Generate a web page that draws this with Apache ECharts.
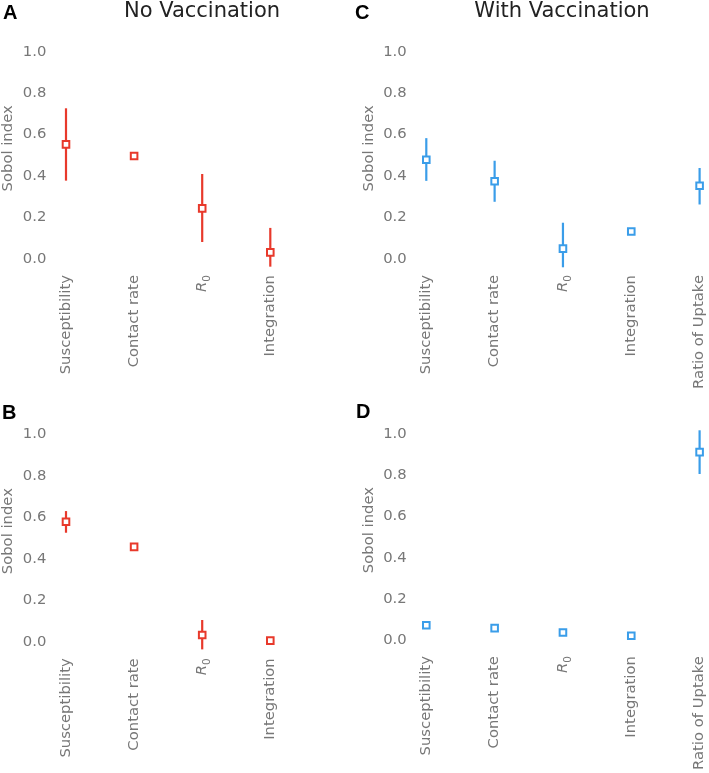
<!DOCTYPE html>
<html><head><meta charset="utf-8">
<script src="https://cdn.jsdelivr.net/npm/echarts@6/dist/echarts.min.js"></script>
<style>html,body{margin:0;padding:0;background:#fff}#c{width:709px;height:773px}</style>
</head><body><div id="c"></div>
<script>
// Categories
const catsNoVac = ['Susceptibility', 'Contact rate', 'R0', 'Integration'];
const catsVac = ['Susceptibility', 'Contact rate', 'R0', 'Integration', 'Ratio of Uptake'];
// Panel A (No Vaccination, top)
const aMean = [0.553, 0.497, 0.244, 0.032];
const aLow  = [0.378, 0.497, 0.082, -0.037];
const aHigh = [0.727, 0.497, 0.410, 0.150];
// Panel B (No Vaccination, bottom)
const bMean = [0.579, 0.458, 0.035, 0.008];
const bLow  = [0.526, 0.458, -0.034, 0.008];
const bHigh = [0.630, 0.458, 0.107, 0.008];
// Panel C (With Vaccination, top)
const cMean = [0.479, 0.375, 0.050, 0.133, 0.353];
const cLow  = [0.377, 0.276, -0.040, 0.133, 0.263];
const cHigh = [0.583, 0.474, 0.175, 0.133, 0.439];
// Panel D (With Vaccination, bottom)
const dMean = [0.072, 0.058, 0.037, 0.021, 0.912];
const dLow  = [0.072, 0.058, 0.037, 0.021, 0.806];
const dHigh = [0.072, 0.058, 0.037, 0.021, 1.018];
// Axis ticks
const yMin = 0, yMax = 1, yStep = 0.2;

const RED = '#e8392b', BLUE = '#3a9de9', GRAY = '#777777';
const FONT = 'DejaVu Sans';
const FS = 14.8;

const chart = echarts.init(document.getElementById('c'), null, {renderer: 'canvas'});

const grids = [
  {left: 65.3, top: 51.7, width: 205, height: 207.3},
  {left: 65.3, top: 434, width: 205, height: 208.3},
  {left: 426.3, top: 51.7, width: 273.3, height: 207.3},
  {left: 426.3, top: 434, width: 273.3, height: 208.3}
];
const panelCats = [catsNoVac, catsNoVac, catsVac, catsVac];
const panelData = [[aMean, aLow, aHigh], [bMean, bLow, bHigh], [cMean, cLow, cHigh], [dMean, dLow, dHigh]];
const panelColor = [RED, RED, BLUE, BLUE];

function labelFmt(v) {
  if (v === 'R0') return '{it|R}{sub|0}';
  return v;
}

const xAxes = panelCats.map((cats, i) => ({
  type: 'category', gridIndex: i, data: cats, boundaryGap: false,
  axisLine: {show: false}, axisTick: {show: false}, splitLine: {show: false},
  axisLabel: {
    interval: 0, rotate: 90, margin: 16, color: GRAY, fontSize: FS, fontFamily: FONT,
    formatter: labelFmt,
    rich: {
      it: {fontStyle: 'italic', fontSize: FS, color: GRAY, fontFamily: FONT},
      sub: {fontSize: 10.5, color: GRAY, fontFamily: FONT, verticalAlign: 'bottom', padding: [0, 0, -3, 0]}
    }
  }
}));

const yAxes = grids.map((g, i) => ({
  type: 'value', gridIndex: i, min: yMin, max: yMax, interval: yStep,
  axisLine: {show: false}, axisTick: {show: false}, splitLine: {show: false},
  axisLabel: {color: GRAY, fontSize: FS, fontFamily: FONT, margin: 19.6, formatter: v => v.toFixed(1)},
  name: 'Sobol index', nameLocation: 'middle', nameGap: 50, nameRotate: 90,
  nameTextStyle: {color: GRAY, fontSize: FS, fontFamily: FONT, padding: [0, 0, 0, 14]}
}));

const series = panelData.map((pd, i) => {
  const [mean, lo, hi] = pd;
  const color = panelColor[i];
  return {
    type: 'custom', xAxisIndex: i, yAxisIndex: i, clip: false,
    data: mean.map((m, k) => [k, m, lo[k], hi[k]]),
    encode: {x: 0, y: 1},
    renderItem: function (params, api) {
      const x = api.value(0);
      const p = api.coord([x, api.value(1)]);
      const pl = api.coord([x, api.value(2)]);
      const ph = api.coord([x, api.value(3)]);
      const children = [];
      if (Math.abs(pl[1] - ph[1]) > 0.5) {
        children.push({type: 'line', shape: {x1: p[0], y1: pl[1], x2: p[0], y2: ph[1]},
          style: {stroke: color, lineWidth: 2.2}});
      }
      children.push({type: 'rect', shape: {x: p[0] - 3.3, y: p[1] - 3.3, width: 6.6, height: 6.6},
        style: {fill: '#fff', stroke: color, lineWidth: 2}});
      return {type: 'group', children: children};
    }
  };
});

const titleFont = '21px "DejaVu Sans"';
const letterFont = 'bold 20px "Liberation Sans", Arial, sans-serif';
const graphic = [
  {type: 'text', x: 202, y: 12, style: {text: 'No Vaccination', font: titleFont, fill: '#222', align: 'center', verticalAlign: 'middle'}},
  {type: 'text', x: 562, y: 12, style: {text: 'With Vaccination', font: titleFont, fill: '#222', align: 'center', verticalAlign: 'middle'}},
  {type: 'text', x: 3, y: 13, style: {text: 'A', font: letterFont, fill: '#000', align: 'left', verticalAlign: 'middle'}},
  {type: 'text', x: 355, y: 13, style: {text: 'C', font: letterFont, fill: '#000', align: 'left', verticalAlign: 'middle'}},
  {type: 'text', x: 2, y: 413, style: {text: 'B', font: letterFont, fill: '#000', align: 'left', verticalAlign: 'middle'}},
  {type: 'text', x: 356, y: 412, style: {text: 'D', font: letterFont, fill: '#000', align: 'left', verticalAlign: 'middle'}}
];

chart.setOption({
  animation: false,
  backgroundColor: '#fff',
  grid: grids,
  xAxis: xAxes,
  yAxis: yAxes,
  series: series,
  graphic: graphic
});
</script>
</body></html>
